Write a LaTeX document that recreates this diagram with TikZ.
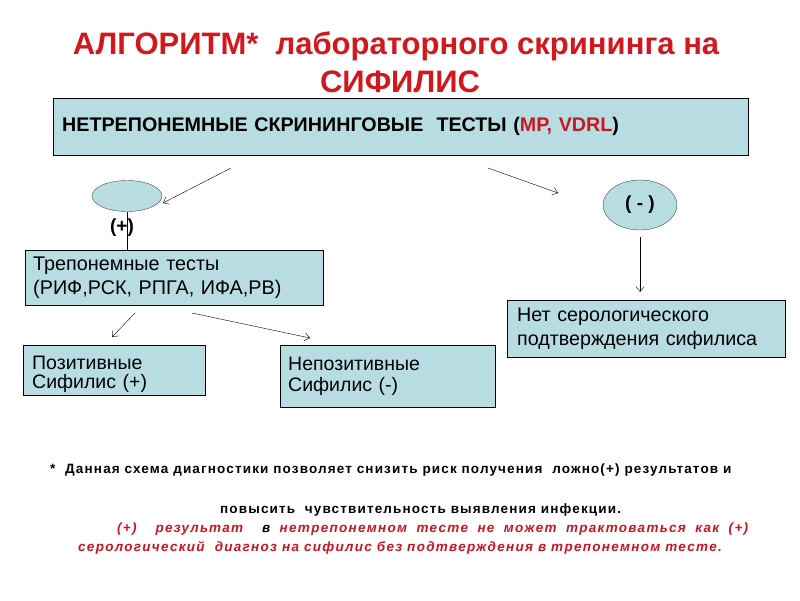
\documentclass[tikz,border=0pt]{standalone}
\usepackage{fontspec}
\setmainfont{Liberation Sans}
\usepackage{tikz}
\usepackage{xcolor}
\usetikzlibrary{shapes.geometric,arrows.meta}
\definecolor{titlered}{RGB}{210,24,28}
\definecolor{notered}{RGB}{200,22,34}
\definecolor{boxblue}{RGB}{183,221,227}
\tikzset{
  box/.style={draw=black,thin,fill=boxblue,align=left,anchor=north west,inner ysep=0pt},
  oval/.style={ellipse,draw=black!70,thin,fill=boxblue,inner sep=0pt},
  link/.style={thin,draw=black},
  arr/.style={thin,draw=black,-{Straight Barb[length=5pt,width=8pt]}},
  note/.style={anchor=west,inner sep=0pt,font=\fontsize{13.5}{16}\selectfont\bfseries\addfontfeatures{LetterSpace=8.5}}
}

\begin{document}
\begin{tikzpicture}[x=1pt,y=-1pt]
  \useasboundingbox[fill=white] (0,0) rectangle (800,600);
  % title
  \node[text=titlered,font=\fontsize{31}{34}\selectfont\bfseries] (T1) at (396,46) {АЛГОРИТМ*~ лабораторного скрининга на};
  \node[text=titlered,font=\fontsize{31}{34}\selectfont\bfseries] (T2) at (400,82) {СИФИЛИС};

  % boxes
  \node[box,inner xsep=9pt,text width=677pt,minimum height=57pt,font=\fontsize{19.7}{23}\selectfont\bfseries] (NT) at (53,98)
    {НЕТРЕПОНЕМНЫЕ СКРИНИНГОВЫЕ~ ТЕСТЫ (\textcolor{notered}{МР, VDRL})};
  \node[box,inner xsep=8pt,text width=282pt,minimum height=55pt,font=\fontsize{19.8}{23.5}\selectfont] (T) at (25,250)
    {Трепонемные тесты\\(РИФ,РСК, РПГА, ИФА,РВ)};
  \node[box,inner xsep=9pt,text width=164pt,minimum height=50pt,font=\fontsize{19.5}{19}\selectfont] (P) at (23,345)
    {\rule{0pt}{22pt}Позитивные\\Сифилис (+)};
  \node[box,inner xsep=8pt,text width=199pt,minimum height=62pt,font=\fontsize{19.5}{21}\selectfont] (NP) at (280,345)
    {Непозитивные\\Сифилис (-)};
  \node[box,inner xsep=10pt,text width=258pt,minimum height=57pt,font=\fontsize{19.7}{24.5}\selectfont] (NS) at (507,300)
    {Нет серологического\\подтверждения сифилиса};

  % ovals
  \node[oval,minimum width=70pt,minimum height=31pt] (EP) at (127,196) {};
  \node[oval,minimum width=74pt,minimum height=50pt,font=\fontsize{19}{22}\selectfont\bfseries] (EM) at (640,205) {( - )};

  % free ends of the arrows
  \coordinate (A1) at (231,168);
  \coordinate (A1e) at (163,203);
  \coordinate (A2) at (488,168);
  \coordinate (A2e) at (558,193);
  \coordinate (A3) at (640,237);
  \coordinate (A3e) at (640,292);
  \coordinate (A4) at (135,313);
  \coordinate (A4e) at (112,337);
  \coordinate (A5) at (192,313);
  \coordinate (A5e) at (310,338);

  \draw[arr] (A1)--(A1e);
  \draw[arr] (A2)--(A2e);
  \draw[link] (EP.south)--(EP.south |- T.north);
  \draw[arr] (A3)--(A3e);
  \draw[arr] (A4)--(A4e);
  \draw[arr] (A5)--(A5e);
  \node[font=\fontsize{19}{22}\selectfont\bfseries] (PL) at (122,228) {(+)};

  % notes
  \node[note] (N1) at (50,470) {*~ Данная схема диагностики позволяет снизить риск получения~ ложно(+) результатов и};
  \node[note] (N2) at (220,510) {повысить~ чувствительность выявления инфекции.};
  \node[anchor=north west,inner sep=0pt,text width=670pt,align=justify,text=notered,
        font=\fontsize{13.5}{19}\selectfont\bfseries\itshape\addfontfeatures{LetterSpace=9.5}] (N3) at (78,523)
    {\hspace*{39pt}(+)~ результат~ \textcolor{black}{в} нетрепонемном тесте не может трактоваться как (+)\linebreak
     серологический~ диагноз на сифилис без подтверждения в трепонемном тесте.};
\end{tikzpicture}
\end{document}
